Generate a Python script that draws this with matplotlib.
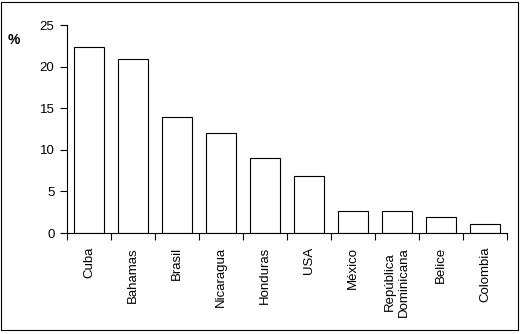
import matplotlib
matplotlib.use("Agg")
import matplotlib.pyplot as plt
import numpy as np
from matplotlib.patches import Rectangle

countries = ["Cuba", "Bahamas", "Brasil", "Nicaragua", "Honduras", "USA",
             "México", "República\nDominicana", "Belice", "Colombia"]
values = [22.3, 20.9, 13.9, 12.0, 9.0, 6.9, 2.6, 2.6, 1.9, 1.1]
yticks = [0, 5, 10, 15, 20, 25]

plt.rcParams["font.family"] = ["Liberation Sans", "DejaVu Sans"]

fig = plt.figure(figsize=(5.23, 3.34), dpi=100)
ax = fig.add_axes([67 / 523, 1 - 233 / 334, 440 / 523, 208 / 334])

x = np.arange(len(countries))
ax.bar(x, values, width=0.7, color="white", edgecolor="black", linewidth=0.8)

ax.set_xlim(-0.5, len(countries) - 0.5)
ax.set_ylim(0, 25)
ax.set_yticks(yticks)
ax.set_yticklabels([str(t) for t in yticks], fontsize=9.5)

# ticks sit between the categories, labels under the bars
ax.set_xticks(np.arange(len(countries) + 1) - 0.5)
ax.set_xticklabels([])
ax.set_xticks(x, minor=True)
ax.set_xticklabels(countries, minor=True, rotation=90, fontsize=9.5,
                   va="top", ha="center", multialignment="center")
ax.tick_params(axis="x", which="minor", length=0, pad=10)
ax.tick_params(axis="x", which="major", length=5, direction="out", width=0.8)
ax.tick_params(axis="y", length=5, direction="out", width=0.8, pad=4)

for s in ["top", "right"]:
    ax.spines[s].set_visible(False)
for s in ["left", "bottom"]:
    ax.spines[s].set_linewidth(0.8)

fig.text(8 / 523, 1 - 40 / 334, "%", fontsize=10, fontweight="bold",
         va="center", ha="left")

fig.patches.append(Rectangle((1 / 523, 1 - 330 / 334), 517 / 523, 328 / 334,
                             transform=fig.transFigure, fill=False,
                             edgecolor="black", linewidth=0.8))

fig.savefig("out.png", dpi=100)
